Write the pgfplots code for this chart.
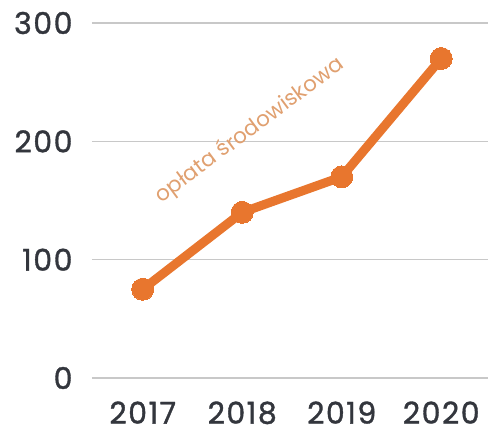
\documentclass[border=0pt]{standalone}
\usepackage{fontspec}
\setmainfont{Poppins}
\usepackage{pgfplots}
\pgfplotsset{compat=1.18}
\definecolor{lineorange}{HTML}{E8762E}
\definecolor{labelorange}{HTML}{E0A070}
\definecolor{gridgray}{HTML}{C8C8C8}
\definecolor{ticktext}{HTML}{33363D}
\begin{document}
\begin{tikzpicture}
  \useasboundingbox (-92bp,-56bp) rectangle (396bp,378bp);
  \begin{axis}[
    at={(0,0)}, anchor=south west,
    scale only axis,
    width=396bp, height=355bp,
    xmin=2016.49, xmax=2020.47,
    ymin=0, ymax=300,
    xtick={2017,2018,2019,2020},
    ytick={0,100,200,300},
    axis line style={draw=none},
    major tick length=0pt,
    ymajorgrids=true,
    grid style={gridgray, line width=1.6bp},
    /pgf/number format/1000 sep={},
    /pgf/number format/assume math mode=true,
    ticklabel style={font=\fontsize{30bp}{31bp}\selectfont\addfontfeatures{FakeBold=1.2,LetterSpace=5}, text=ticktext},
    yticklabel style={anchor=east, xshift=-16bp},
    xticklabel style={anchor=north, yshift=-20bp},
    clip=false,
  ]
    \addplot[lineorange, line width=9bp, mark=*, mark size=11bp,
      mark options={fill=lineorange, draw=lineorange, line width=0pt}]
      coordinates {(2017,75) (2018,140) (2019,170) (2020,270)};
    \node[rotate=36.5, text=labelorange, font=\fontsize{21.5bp}{24bp}\selectfont]
      at (axis cs:2018.08,209) {opłata środowiskowa};
  \end{axis}
\end{tikzpicture}
\end{document}
